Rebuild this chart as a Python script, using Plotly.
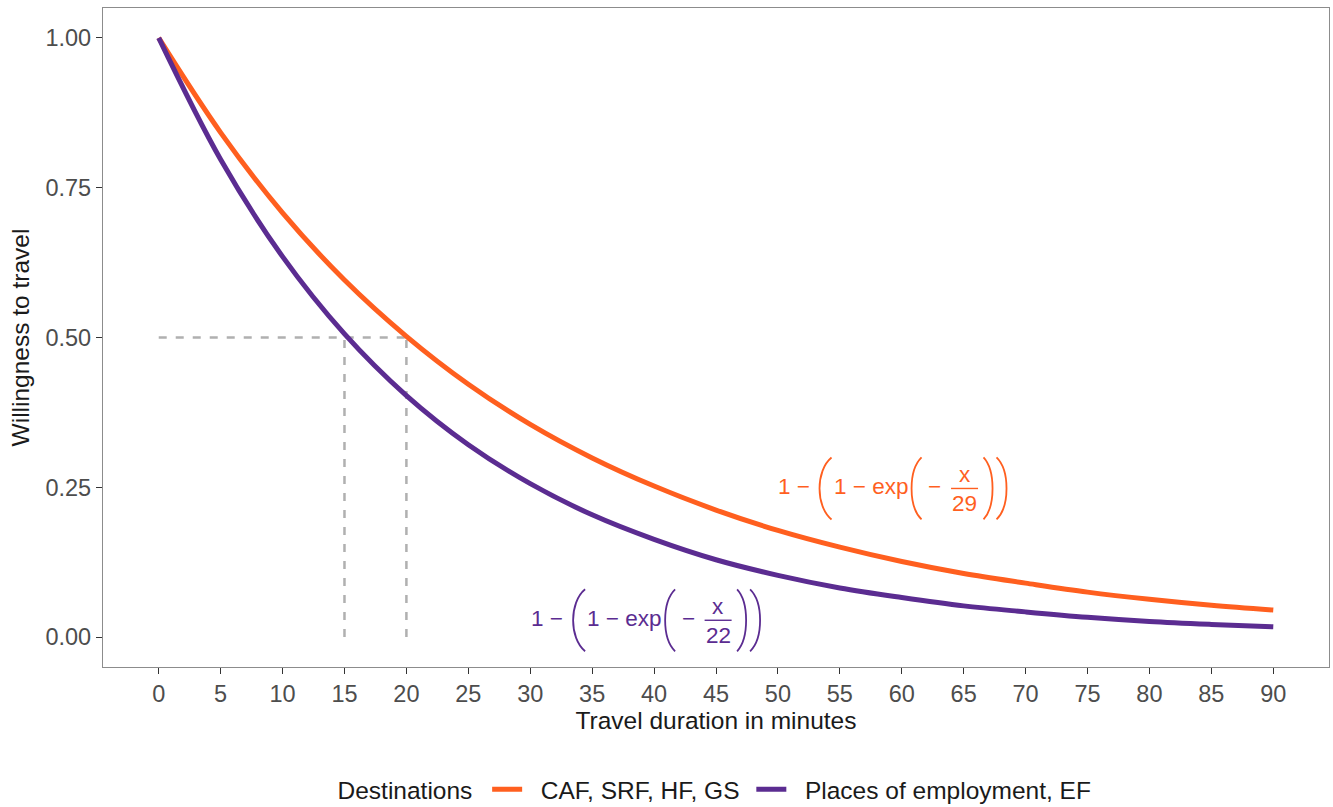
import plotly.graph_objects as go

# ---- data ----
minutes = [0, 5, 10, 15, 20, 25, 30, 35, 40, 45, 50, 55, 60, 65, 70, 75, 80, 85, 90]
caf_srf_hf_gs = [1.000, 0.842, 0.708, 0.596, 0.502, 0.422, 0.355, 0.299, 0.252, 0.212,
                 0.178, 0.150, 0.126, 0.106, 0.090, 0.075, 0.063, 0.053, 0.045]
employment_ef = [1.000, 0.797, 0.635, 0.506, 0.403, 0.321, 0.256, 0.204, 0.163, 0.129,
                 0.103, 0.082, 0.066, 0.052, 0.042, 0.033, 0.026, 0.021, 0.017]
series_names = ["CAF, SRF, HF, GS", "Places of employment, EF"]
series_colors = ["#FF5F1F", "#5B2C91"]

ref_level = 0.5
ref_minutes = [15, 20]
x_ticks = list(range(0, 91, 5))
y_ticks = [0, 0.25, 0.5, 0.75, 1.0]
y_tick_labels = ["0.00", "0.25", "0.50", "0.75", "1.00"]
formula_denoms = [29, 22]
formula_pos = [(65.07, 0.248), (45.17, 0.028)]

FONT = "Liberation Sans, Arial, sans-serif"
GRAY_DASH = "#b0b0b0"
FSZ = 22.5

fig = go.Figure()

# reference dashed lines
fig.add_trace(go.Scatter(x=[0, max(ref_minutes)], y=[ref_level, ref_level], mode="lines",
                         line=dict(color=GRAY_DASH, width=2.5, dash="8px,9px"),
                         showlegend=False, hoverinfo="skip"))
for m in ref_minutes:
    fig.add_trace(go.Scatter(x=[m, m], y=[0, ref_level], mode="lines",
                             line=dict(color=GRAY_DASH, width=2.5, dash="8px,9px"),
                             showlegend=False, hoverinfo="skip"))

for i, (ys, name, col) in enumerate(zip([caf_srf_hf_gs, employment_ef], series_names, series_colors)):
    label = "\u00a0\u00a0" + name + ("\u00a0" if i == 0 else "")
    fig.add_trace(go.Scatter(x=minutes, y=ys, mode="lines", name=label,
                             line=dict(color=col, width=5, shape="spline", smoothing=1.0)))


def paren(x0, xb, col, fx, fy):
    fig.add_shape(type="path", xref="x", yref="y", xsizemode="pixel", ysizemode="pixel",
                  xanchor=fx, yanchor=fy,
                  path=f"M {x0},31 C {xb},18 {xb},-18 {x0},-31",
                  line=dict(color=col, width=1.8))


for (fx, fy), d, col in zip(formula_pos, formula_denoms, series_colors):
    f = dict(family=FONT, size=FSZ, color=col)
    fig.add_annotation(x=fx, y=fy, xref="x", yref="y", text="1 −", showarrow=False,
                       xanchor="right", yanchor="middle", xshift=-153, yshift=2, font=f)
    paren(-133, -149, col, fx, fy)
    fig.add_annotation(x=fx, y=fy, xref="x", yref="y", text="1 − exp", showarrow=False,
                       xanchor="left", yanchor="middle", xshift=-133, yshift=2, font=f)
    paren(-43, -56.3, col, fx, fy)
    fig.add_annotation(x=fx, y=fy, xref="x", yref="y", text="−", showarrow=False,
                       xanchor="center", yanchor="middle", xshift=-30, yshift=2, font=f)
    fig.add_shape(type="line", xref="x", yref="y", xsizemode="pixel", ysizemode="pixel",
                  xanchor=fx, yanchor=fy, x0=-13.5, x1=13.5, y0=0, y1=0,
                  line=dict(color=col, width=1.4))
    fig.add_annotation(x=fx, y=fy, xref="x", yref="y", text="x", showarrow=False,
                       xanchor="center", yanchor="middle", yshift=14, font=f)
    fig.add_annotation(x=fx, y=fy, xref="x", yref="y", text=str(d), showarrow=False,
                       xanchor="center", yanchor="middle", yshift=-15, font=f)
    paren(19, 31, col, fx, fy)
    paren(32, 45.3, col, fx, fy)

axis_common = dict(showline=True, linecolor="#8c8c8c", linewidth=1.2, mirror=True,
                   ticks="outside", ticklen=6, tickcolor="#333333", tickwidth=1.2,
                   showgrid=False, zeroline=False, automargin=False,
                   tickfont=dict(family=FONT, size=23.5, color="#4d4d4d"))

fig.update_layout(
    width=1333, height=807,
    margin=dict(l=103, r=4, t=8, b=140),
    paper_bgcolor="white", plot_bgcolor="white",
    font=dict(family=FONT, color="#1a1a1a"),
    xaxis=dict(range=[-4.5, 94.5], tickvals=x_ticks,
               title=dict(text="Travel duration in minutes", font=dict(family=FONT, size=24.5, color="#1a1a1a"),
                          standoff=4),
               **axis_common),
    yaxis=dict(range=[-0.05, 1.05], tickvals=y_ticks, ticktext=y_tick_labels,
               title=dict(text="Willingness to travel", font=dict(family=FONT, size=24.5, color="#1a1a1a"),
                          standoff=8),
               **axis_common),
    legend=dict(orientation="h", x=0.5, xanchor="center", yref="container", y=0.022, yanchor="middle",
                title=dict(text="Destinations ", font=dict(family=FONT, size=24.5, color="#1a1a1a")),
                font=dict(family=FONT, size=24.5, color="#1a1a1a"),
                itemwidth=30, traceorder="normal"),
    showlegend=True,
)

fig.write_html("out.html")
